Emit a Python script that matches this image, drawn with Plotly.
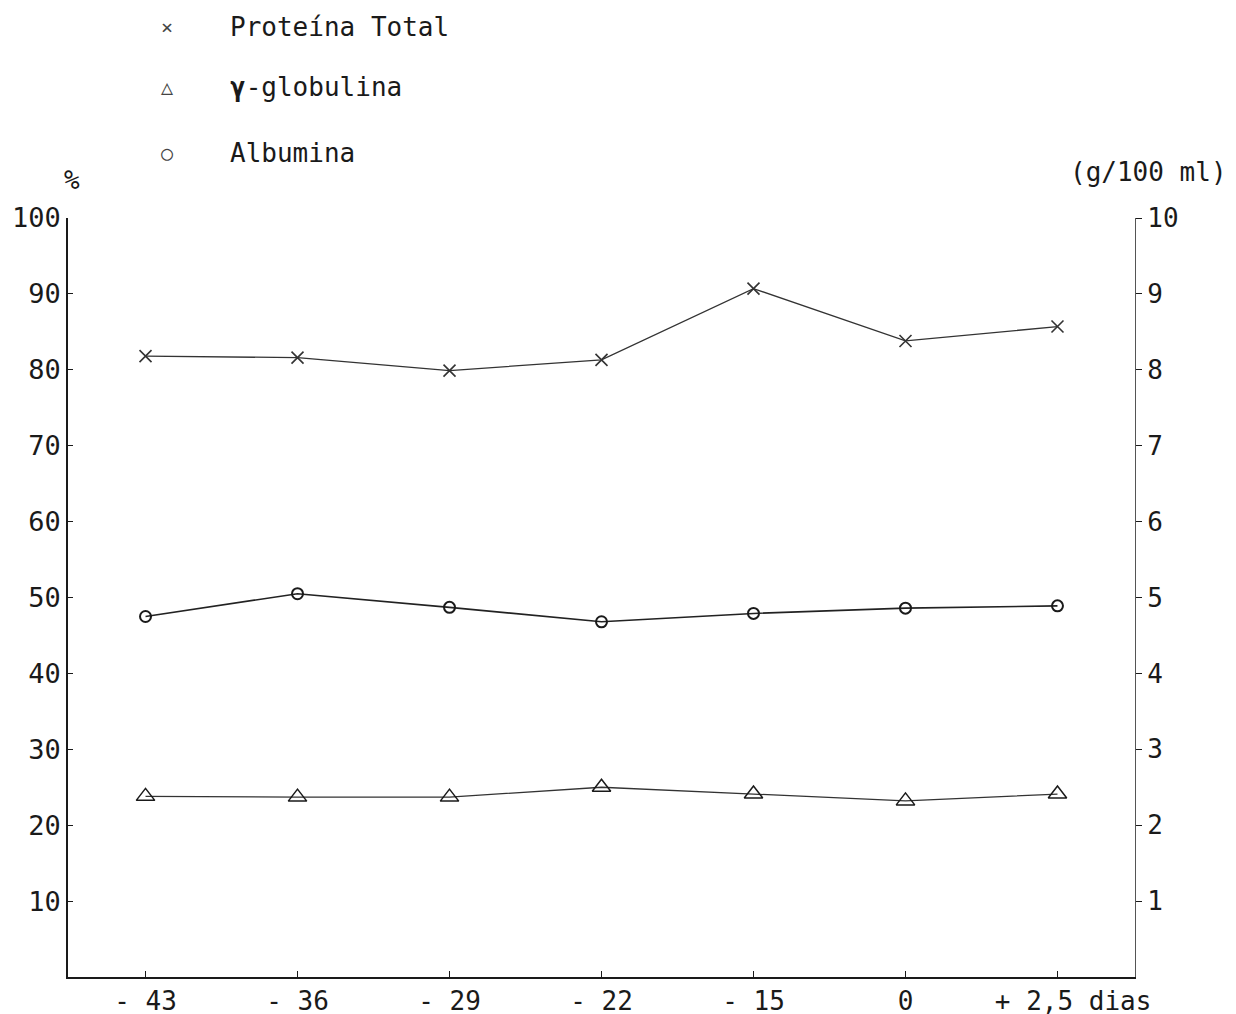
import plotly.graph_objects as go

categories = ["- 43", "- 36", "- 29", "- 22", "- 15", "0", "\u00a0\u00a0+ 2,5 dias"]
proteina_total = [8.18, 8.16, 7.99, 8.13, 9.07, 8.38, 8.57]   # g/100 ml (right axis)
albumina = [47.5, 50.5, 48.7, 46.8, 47.9, 48.6, 48.9]          # % (left axis)
gamma_globulina = [23.8, 23.7, 23.7, 25.0, 24.1, 23.2, 24.1]  # % (left axis)
left_ticks = [10, 20, 30, 40, 50, 60, 70, 80, 90, 100]
right_ticks = [1, 2, 3, 4, 5, 6, 7, 8, 9, 10]

FONT = "DejaVu Sans Mono"
INK = "#1a1a1a"
x_idx = list(range(len(categories)))

# page body has an 8px margin; plot area wanted at x 68..1135, y 218..977 (screen px)
ML, MT = 60, 210
MR = 1236 - (1135 - 8)
MB = 1014 - (977 - 8)
PW = 1236 - ML - MR
PH = 1014 - MT - MB

def px(x):
    return (x - 8 - ML) / PW

def py(y):
    return ((1014 - MB) - (y - 8)) / PH

fig = go.Figure()
fig.add_trace(go.Scatter(
    x=x_idx, y=proteina_total, yaxis="y2", mode="lines+markers",
    line=dict(color="#333", width=1.3),
    marker=dict(symbol="x-thin-open", size=12, line=dict(color=INK, width=1.6)),
    name="Proteína Total"))
fig.add_trace(go.Scatter(
    x=x_idx, y=albumina, mode="lines+markers",
    line=dict(color="#222", width=1.6),
    marker=dict(symbol="circle-open", size=11, color=INK, line=dict(width=2)),
    name="Albumina"))
fig.add_trace(go.Scatter(
    x=x_idx, y=gamma_globulina, mode="lines+markers",
    line=dict(color="#333", width=1.3),
    marker=dict(symbol="triangle-up-open", size=16, color=INK, line=dict(width=1.5)),
    name="γ-globulina"))

fig.update_layout(
    width=1236, height=1014,
    margin=dict(l=ML, r=MR, t=MT, b=MB),
    paper_bgcolor="white", plot_bgcolor="white",
    showlegend=False,
    font=dict(family=FONT, size=26, color=INK),
    xaxis=dict(
        range=[-0.51, 6.51], tickmode="array", tickvals=x_idx, ticktext=categories,
        showgrid=False, zeroline=False, showline=True, linecolor=INK, linewidth=2,
        ticks="inside", ticklen=6, tickcolor=INK, automargin=False,
        tickfont=dict(family=FONT, size=26, color=INK),
    ),
    yaxis=dict(
        range=[0, 100], tickmode="array", tickvals=left_ticks,
        showgrid=False, zeroline=False, showline=True, linecolor=INK, linewidth=1.5,
        ticks="inside", ticklen=5, tickcolor=INK, automargin=False,
        tickfont=dict(family=FONT, size=27, color=INK),
    ),
    yaxis2=dict(
        range=[0, 10], overlaying="y", side="right", tickmode="array", tickvals=right_ticks,
        showgrid=False, zeroline=False, showline=True, linecolor="#555", linewidth=1.2,
        ticks="outside", ticklen=6, tickcolor=INK, automargin=False,
        tickfont=dict(family=FONT, size=26, color=INK),
    ),
)

for text, x, y in [("%", 72, 180), ("(g/100 ml)", 1148, 172)]:
    fig.add_annotation(x=px(x), y=py(y), xref="paper", yref="paper",
                       xanchor="center", yanchor="middle", text=text, showarrow=False,
                       font=dict(family=FONT, size=26, color=INK))

legend_items = [("×", "Proteína Total", 27), ("△", "<b>γ</b>-globulina", 87), ("○", "Albumina", 153)]
for sym, label, ypix in legend_items:
    fig.add_annotation(x=px(167), y=py(ypix), xref="paper", yref="paper",
                       xanchor="center", yanchor="middle", text=sym, showarrow=False,
                       font=dict(family=FONT, size=20, color="#444"))
    fig.add_annotation(x=px(228), y=py(ypix), xref="paper", yref="paper",
                       xanchor="left", yanchor="middle", text=label, showarrow=False,
                       font=dict(family=FONT, size=26, color=INK))

fig.write_html("out.html")
